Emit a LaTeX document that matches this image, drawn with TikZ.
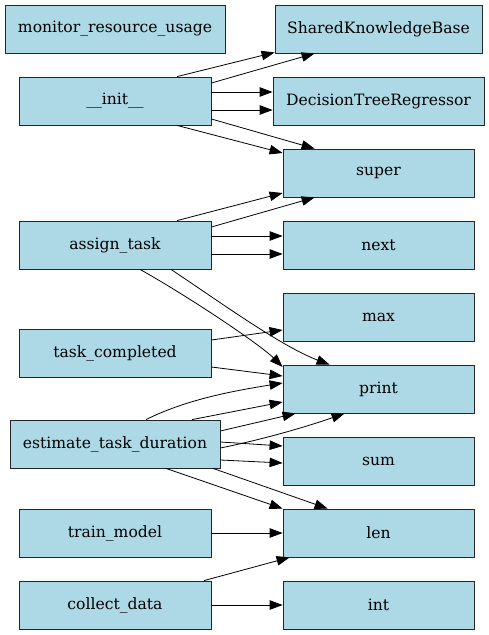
\documentclass[tikz,border=0pt]{standalone}
\usepackage{fontspec}
\setmainfont{DejaVu Serif}
\usetikzlibrary{arrows.meta}
\begin{document}
\begin{tikzpicture}[x=1pt,y=1pt,
  fn/.style={draw=black!85,line width=0.8pt,fill=lightblue,minimum height=48pt,inner sep=0pt,font=\fontsize{15.6}{18}\selectfont},
  lw/.style={fn,minimum width=192pt},
  rw/.style={fn,minimum width=191pt},
  edge/.style={draw=black,line width=0.8pt,-{Triangle[length=13pt,width=9.5pt]}}]
\definecolor{lightblue}{HTML}{ADD8E6}
\useasboundingbox (0,0) rectangle (489,-635);
\node[fn,minimum width=220pt] (mru) at (115,-29) {monitor\_resource\_usage};
\node[fn,minimum width=207pt] (skb) at (378.5,-29) {SharedKnowledgeBase};
\node[lw] (init) at (115,-101) {\_\_init\_\_};
\node[fn,minimum width=211pt] (dtr) at (378.5,-101) {DecisionTreeRegressor};
\node[rw] (super) at (378.5,-173) {super};
\node[lw] (assign) at (115,-245) {assign\_task};
\node[rw] (next) at (378.5,-245) {next};
\node[rw] (max) at (378.5,-317) {max};
\node[lw] (tc) at (115,-353) {task\_completed};
\node[rw] (print) at (378.5,-389) {print};
\node[fn,minimum width=210pt] (etd) at (115,-444) {estimate\_task\_duration};
\node[rw] (sum) at (378.5,-461) {sum};
\node[lw] (train) at (115,-533) {train\_model};
\node[rw] (len) at (378.5,-533) {len};
\node[lw] (collect) at (115,-605) {collect\_data};
\node[rw] (int) at (378.5,-605) {int};

\path[edge] ([xshift=62pt]init.north) -- ([yshift=1pt]skb.south west);
\path[edge] ([yshift=18pt]init.east) -- ([xshift=40pt]skb.south west);
\path[edge] ([yshift=9pt]init.east) -- ([yshift=9pt]dtr.west);
\path[edge] ([yshift=-9pt]init.east) -- ([yshift=-9pt]dtr.west);
\path[edge] ([xshift=62pt]init.south) -- ([yshift=20pt]super.west);
\path[edge] ([yshift=-18pt]init.east) -- ([xshift=32pt]super.north west);
\path[edge] ([xshift=62pt]assign.north) -- ([yshift=-20pt]super.west);
\path[edge] ([yshift=18pt]assign.east) -- ([xshift=32pt]super.south west);
\path[edge] ([yshift=9pt]assign.east) -- ([yshift=9pt]next.west);
\path[edge] ([yshift=-9pt]assign.east) -- ([yshift=-9pt]next.west);
\path[edge] ([xshift=25pt]assign.south) .. controls +(50,-28) and +(-22,22) .. ([yshift=22pt]print.west);
\path[edge] ([xshift=56pt]assign.south) .. controls +(48,-32) and +(-48,18) .. ([xshift=47pt]print.north west);
\path[edge] ([yshift=13pt]tc.east) -- ([yshift=-13pt]max.west);
\path[edge] ([yshift=-14pt]tc.east) -- ([yshift=13pt]print.west);
\path[edge] ([xshift=31pt]etd.north) .. controls +(40,20) and +(-50,-8) .. ([yshift=6pt]print.west);
\path[edge] ([xshift=77pt]etd.north) -- ([yshift=-13pt]print.west);
\path[edge] ([yshift=13pt]etd.east) -- ([xshift=13pt]print.south west);
\path[edge] ([yshift=-4pt]etd.east) .. controls +(40,8) and +(-40,-14) .. ([xshift=62pt]print.south west);
\path[edge] ([yshift=2pt]etd.east) -- ([yshift=15pt]sum.west);
\path[edge] ([yshift=-16pt]etd.east) -- ([yshift=-2pt]sum.west);
\path[edge] ([xshift=51pt]etd.south) -- (len.north west);
\path[edge] ([xshift=98pt]etd.south) -- ([xshift=45pt]len.north west);
\path[edge] (train.east) -- (len.west);
\path[edge] ([xshift=89pt]collect.north) -- ([xshift=7pt]len.south west);
\path[edge] (collect.east) -- (int.west);
\end{tikzpicture}
\end{document}
